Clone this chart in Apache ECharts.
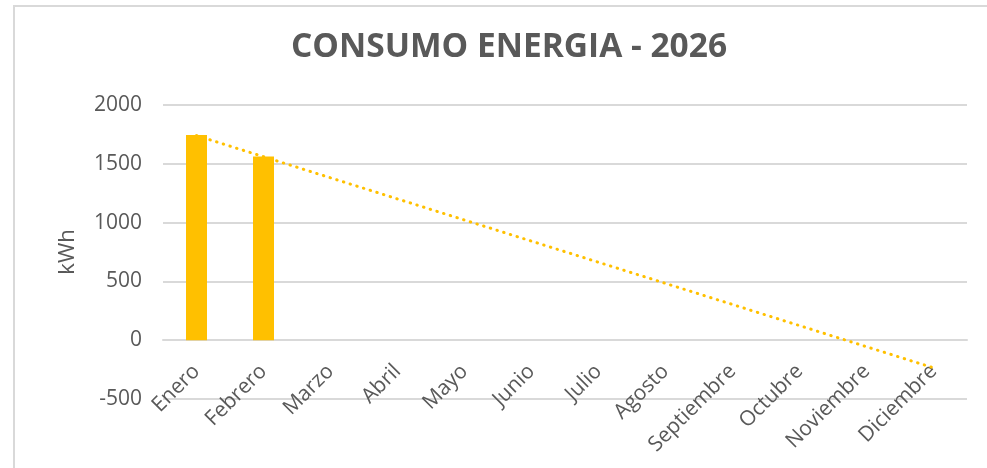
<!DOCTYPE html>
<html>
<head>
<meta charset="utf-8">
<script src="https://cdn.jsdelivr.net/npm/echarts@6/dist/echarts.min.js"></script>
<style>
  html, body { margin: 0; padding: 0; background: #fff; }
  #frame { position: absolute; left: 13px; top: 5px; width: 980px; height: 470px; border: 2px solid #d9d9d9; box-sizing: border-box; }
  #main { position: absolute; left: 0; top: 0; width: 987px; height: 468px; }
</style>
</head>
<body>
<div id="frame"></div>
<div id="main"></div>
<script>
// meses
var months = ['Enero', 'Febrero', 'Marzo', 'Abril', 'Mayo', 'Junio', 'Julio', 'Agosto', 'Septiembre', 'Octubre', 'Noviembre', 'Diciembre']
// consumo kWh (solo ene y feb)
var consumo = [1745, 1562, null, null, null, null, null, null, null, null, null, null]
// linea de tendencia (extremos)
var tendencia = [1740, null, null, null, null, null, null, null, null, null, null, -235]
var yTicks = [-500, 0, 500, 1000, 1500, 2000]

var chart = echarts.init(document.getElementById('main'))
var gray = '#595959'
var option = {
  animation: false,
  textStyle: { fontFamily: 'Open Sans' },
  title: {
    text: 'CONSUMO ENERGIA - 2026',
    left: 504,
    top: 25,
    textAlign: 'center',
    textStyle: { fontFamily: 'Open Sans', fontWeight: 'bold', fontSize: 33.5, color: gray }
  },
  grid: { left: 163, right: 20, top: 105, bottom: 69, containLabel: false, outerBoundsMode: 'none' },
  xAxis: {
    type: 'category',
    data: months,
    // eje en el 0 (offset hacia arriba)
    offset: -59,
    axisLine: { onZero: false, lineStyle: { color: '#d9d9d9', width: 2 } },
    axisTick: { show: false },
    axisLabel: { rotate: 45, margin: 28, fontSize: 21, color: gray, interval: 0 }
  },
  yAxis: {
    type: 'value',
    name: 'kWh',
    nameLocation: 'middle',
    nameGap: 84,
    nameTextStyle: { fontSize: 22, color: gray },
    min: yTicks[0],
    max: yTicks[yTicks.length - 1],
    interval: 500,
    axisLine: { show: false },
    axisTick: { show: false },
    axisLabel: { fontSize: 21, color: gray, margin: 21, formatter: function (v) { return String(v) } },
    splitLine: { lineStyle: { color: '#d9d9d9', width: 2 } }
  },
  series: [
    {
      name: 'Consumo',
      type: 'bar',
      data: consumo,
      barWidth: 21,
      itemStyle: { color: '#ffc000' }
    },
    {
      name: 'Tendencia',
      type: 'line',
      data: tendencia,
      connectNulls: true,
      symbol: 'none',
      lineStyle: { color: '#ffc000', width: 3, type: [0.5, 6.5], cap: 'round' }
    }
  ]
}
chart.setOption(option)
</script>
</body>
</html>
